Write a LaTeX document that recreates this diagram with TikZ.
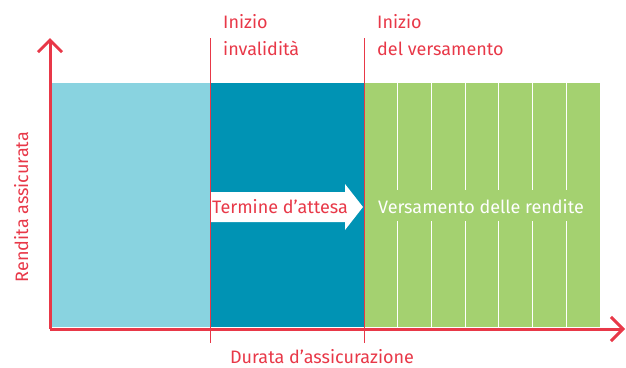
\documentclass[tikz,border=0pt]{standalone}
\usepackage{fontspec}
\setmainfont{Fira Sans}
\usetikzlibrary{arrows.meta}
\definecolor{rojo}{RGB}{232,56,72}
\definecolor{celeste}{RGB}{137,211,224}
\definecolor{petrol}{RGB}{0,147,180}
\definecolor{verde}{RGB}{164,209,112}
\tikzstyle{texto}=[inner sep=0pt,text=rojo,font=\fontsize{18}{27}\selectfont,align=left]
\tikzstyle{eje}=[rojo,line width=3pt,-{Straight Barb[length=12pt,width=24pt]}]
\tikzstyle{marca}=[rojo,line width=1pt]

\begin{document}
\begin{tikzpicture}[x=1pt,y=-1pt]
    \useasboundingbox (0,0) rectangle (626,367);
    \fill [celeste] (50,83) rectangle (210,327);
    \fill [petrol] (210,83) rectangle (364,327);
    \fill [verde] (364,83) rectangle (600,327);
    \foreach \i in {1,...,6}
        \draw [white,line width=1pt] (364+\i*33.7,83) -- (364+\i*33.7,327);
    \fill [white] (210.5,192) -- (345,192) -- (345,184) -- (363,207) -- (345,230) -- (345,222) -- (210.5,222) -- cycle;
    \coordinate (o) at (50,329);
    \coordinate (ytop) at (50,38);
    \coordinate (xend) at (625,329);
    \coordinate (m1a) at (210,38);
    \coordinate (m1b) at (210,343);
    \coordinate (m2a) at (364,38);
    \coordinate (m2b) at (364,343);
    \draw [marca] (m1a) -- (m1b);
    \draw [marca] (m2a) -- (m2b);
    \draw [eje] (o) -- (ytop);
    \draw [eje] (o) -- (xend);
    \node [texto,anchor=north west] (t1) at (223,14.5) {Inizio\\invalidità};
    \node [texto,anchor=north west] (t2) at (377,14.5) {Inizio\\del versamento};
    \node [texto,anchor=base west] (t3) at (212,213) {Termine d’attesa};
    \node [texto,text=white,fill=verde,minimum height=31pt,text depth=0pt,anchor=base] (t4) at (481,213) {Versamento delle rendite};
    \node [texto,anchor=base,text depth=0pt] (t5) at (322,363.5) {Durata d’assicurazione};
    \node [texto,rotate=90,anchor=base] (t6) at (28,207) {Rendita assicurata};
\end{tikzpicture}
\end{document}
